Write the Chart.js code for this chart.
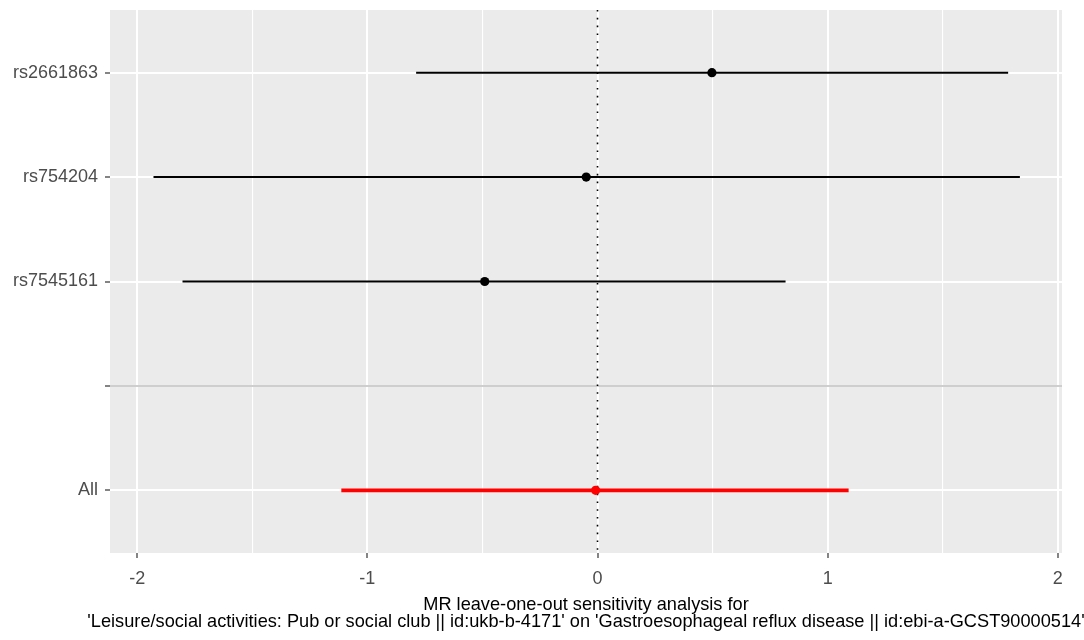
<!DOCTYPE html>
<html>
<head>
<meta charset="utf-8">
<script src="https://cdn.jsdelivr.net/npm/chart.js@4.4.1/dist/chart.umd.min.js"></script>
<style>
  html, body { margin: 0; padding: 0; background: #fff; }
  #wrap { width: 1084px; height: 640px; }
</style>
</head>
<body>
<div id="wrap"><canvas id="chart" width="1084" height="640"></canvas></div>
<script>
// leave-one-out rows, top to bottom (blank row separates "All")
const rowLabels = ['rs2661863', 'rs754204', 'rs7545161', '', 'All'];
const estimates = [0.497, -0.049, -0.49, null, -0.008];
const lowerCI = [-0.788, -1.929, -1.803, null, -1.113];
const upperCI = [1.784, 1.835, 0.817, null, 1.091];

const xMajorTicks = [-2, -1, 0, 1, 2];
const xMinorTicks = [-1.5, -0.5, 0.5, 1.5];

const titleLines = [
    'MR leave-one-out sensitivity analysis for',
    "'Leisure/social activities: Pub or social club || id:ukb-b-4171' on 'Gastroesophageal reflux disease || id:ebi-a-GCST90000514'"
];

const FONT = '"Liberation Sans", Arial, sans-serif';
const rowColor = (i) => rowLabels[i] === 'All' ? '#FF0000' : '#000000';

// one line per interval
const intervalSets = [];
rowLabels.forEach(function(lab, i) {
    if (estimates[i] === null) return;
    intervalSets.push({
        data: [{x: lowerCI[i], y: i}, {x: upperCI[i], y: i}],
        showLine: true,
        borderColor: rowColor(i),
        borderWidth: lab === 'All' ? 3.8 : 2,
        pointRadius: 0,
        order: 2
    });
});

const pointIdx = rowLabels.map((_, i) => i).filter(i => estimates[i] !== null);
const pointSet = {
    data: pointIdx.map(i => ({x: estimates[i], y: i})),
    pointBackgroundColor: pointIdx.map(rowColor),
    pointBorderColor: pointIdx.map(rowColor),
    pointRadius: 4.6,
    pointBorderWidth: 0,
    showLine: false,
    order: 1
};

// panel background, reference lines and two-line axis title
const ggPlugin = {
    id: 'ggPlugin',
    beforeDraw: function(chart) {
        const a = chart.chartArea, ctx = chart.ctx;
        ctx.save();
        ctx.fillStyle = '#EBEBEB';
        ctx.fillRect(a.left, a.top, a.right - a.left, a.bottom - a.top);
        ctx.restore();
    },
    beforeDatasetsDraw: function(chart) {
        const a = chart.chartArea, ctx = chart.ctx;
        const xs = chart.scales.x, ys = chart.scales.y;
        ctx.save();
        // grey line at the blank row
        const yb = ys.getPixelForValue(rowLabels.indexOf(''));
        ctx.strokeStyle = '#BEBEBE';
        ctx.lineWidth = 1.5;
        ctx.beginPath();
        ctx.moveTo(a.left, yb);
        ctx.lineTo(a.right, yb);
        ctx.stroke();
        // dotted line at zero
        const x0 = xs.getPixelForValue(0);
        ctx.strokeStyle = '#000';
        ctx.lineWidth = 1.6;
        ctx.setLineDash([1.6, 6.2]);
        ctx.beginPath();
        ctx.moveTo(x0, a.top);
        ctx.lineTo(x0, a.bottom);
        ctx.stroke();
        ctx.restore();
    },
    afterDraw: function(chart) {
        const a = chart.chartArea, ctx = chart.ctx;
        const cx = (a.left + a.right) / 2;
        ctx.save();
        ctx.fillStyle = '#000';
        ctx.font = '18.2px ' + FONT;
        ctx.textAlign = 'center';
        ctx.textBaseline = 'alphabetic';
        ctx.fillText(titleLines[0], cx, 610);
        ctx.fillText(titleLines[1], cx, 627);
        ctx.restore();
    }
};

new Chart(document.getElementById('chart'), {
    type: 'scatter',
    data: { datasets: intervalSets.concat([pointSet]) },
    plugins: [ggPlugin],
    options: {
        responsive: false,
        animation: false,
        layout: { padding: { top: 10, right: 22, left: 0, bottom: 0 } },
        plugins: {
            legend: { display: false },
            tooltip: { enabled: false }
        },
        scales: {
            x: {
                type: 'linear',
                min: -2.118,
                max: 2.018,
                afterBuildTicks: function(scale) {
                    scale.ticks = xMajorTicks.concat(xMinorTicks)
                        .sort((p, q) => p - q)
                        .map(v => ({value: v}));
                },
                afterFit: function(scale) {
                    scale.height = 87;
                    scale.paddingLeft = 0;
                    scale.paddingRight = 0;
                },
                border: { display: false },
                grid: {
                    color: '#FFFFFF',
                    lineWidth: ctx => xMajorTicks.includes(ctx.tick.value) ? 2 : 1.1,
                    tickColor: ctx => xMajorTicks.includes(ctx.tick.value) ? '#333333' : 'rgba(0,0,0,0)',
                    tickLength: 5,
                    tickWidth: 1.2
                },
                ticks: {
                    autoSkip: false,
                    maxRotation: 0,
                    padding: 10,
                    color: '#4D4D4D',
                    font: { family: FONT, size: 18 },
                    callback: v => xMajorTicks.includes(v) ? String(v) : ''
                }
            },
            y: {
                type: 'linear',
                reverse: true,
                min: -0.6,
                max: 4.6,
                afterBuildTicks: function(scale) {
                    scale.ticks = rowLabels.map((_, i) => ({value: i}));
                },
                afterFit: function(scale) {
                    scale.width = 110;
                    scale.paddingTop = 0;
                    scale.paddingBottom = 0;
                },
                border: { display: false },
                grid: {
                    color: '#FFFFFF',
                    lineWidth: 2,
                    tickColor: '#333333',
                    tickLength: 5,
                    tickWidth: 1.2
                },
                ticks: {
                    autoSkip: false,
                    padding: 7,
                    color: '#4D4D4D',
                    font: { family: FONT, size: 18 },
                    callback: v => rowLabels[v]
                }
            }
        }
    }
});
</script>
</body>
</html>
